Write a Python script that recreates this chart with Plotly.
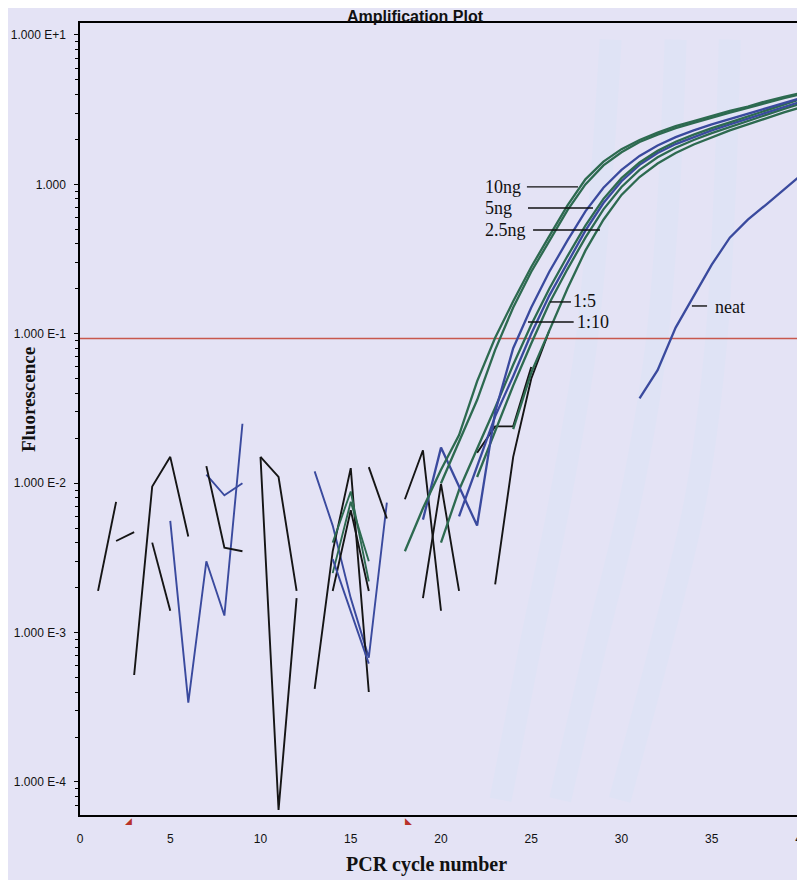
import math
import plotly.graph_objects as go

# ---------------- data ----------------
threshold = 0.093

# amplification curves: cycles and fluorescence
tenng_a_cyc = list(range(18, 41))
tenng_a = [0.0035, 0.0068, 0.0123, 0.021, 0.048, 0.094, 0.165, 0.28, 0.45, 0.72, 1.08, 1.42,
           1.72, 1.98, 2.22, 2.45, 2.65, 2.88, 3.1, 3.32, 3.6, 3.85, 4.1]
tenng_b_cyc = list(range(20, 41))
tenng_b = [0.010, 0.019, 0.036, 0.078, 0.15, 0.26, 0.42, 0.67, 1.0, 1.34, 1.64, 1.92, 2.15,
           2.38, 2.58, 2.8, 3.02, 3.25, 3.52, 3.78, 4.02]
dil5_cyc = list(range(19, 41))
dil5 = [0.0057, 0.0173, 0.0095, 0.0052, 0.03, 0.08, 0.15, 0.26, 0.42, 0.66, 0.95, 1.25, 1.55,
        1.82, 2.07, 2.3, 2.52, 2.74, 2.97, 3.22, 3.5, 3.8]
fiveng_cyc = list(range(20, 41))
fiveng = [0.004, 0.009, 0.017, 0.032, 0.062, 0.115, 0.2, 0.33, 0.53, 0.8, 1.1, 1.4, 1.68, 1.93,
          2.15, 2.38, 2.6, 2.85, 3.1, 3.4, 3.75]
dil10_cyc = list(range(21, 41))
dil10 = [0.006, 0.013, 0.028, 0.052, 0.1, 0.18, 0.3, 0.49, 0.75, 1.05, 1.35, 1.62, 1.86, 2.08,
         2.3, 2.52, 2.76, 3.0, 3.28, 3.6]
fiveng_b_cyc = list(range(22, 41))
fiveng_b = [0.011, 0.022, 0.045, 0.086, 0.16, 0.27, 0.44, 0.68, 0.96, 1.25, 1.52, 1.76, 1.98,
            2.2, 2.42, 2.65, 2.9, 3.2, 3.5]
twofive_cyc = list(range(24, 41))
twofive = [0.023, 0.055, 0.105, 0.2, 0.36, 0.58, 0.85, 1.12, 1.38, 1.62, 1.85, 2.07, 2.3, 2.52,
           2.77, 3.03, 3.3]
neat_cyc = list(range(31, 41))
neat = [0.037, 0.057, 0.11, 0.18, 0.29, 0.44, 0.58, 0.73, 0.92, 1.17]

# baseline noise segments (cycle lists and values)
n01_c = [1, 2];             n01_v = [0.0019, 0.0075]
n02_c = [2, 3];             n02_v = [0.0041, 0.0047]
n03_c = [3, 4, 5, 6];       n03_v = [0.00052, 0.0095, 0.015, 0.0044]
n04_c = [4, 5];             n04_v = [0.0040, 0.0014]
n05_c = [5, 6, 7, 8, 9];    n05_v = [0.0056, 0.00034, 0.0030, 0.0013, 0.025]
n06_c = [7, 8, 9];          n06_v = [0.0114, 0.0083, 0.0100]
n07_c = [7, 8, 9];          n07_v = [0.013, 0.0037, 0.0035]
n08_c = [10, 11, 12];       n08_v = [0.015, 0.000065, 0.0017]
n09_c = [10, 11, 12];       n09_v = [0.015, 0.011, 0.0019]
n10_c = [13, 14, 15, 16, 17]; n10_v = [0.012, 0.0052, 0.0017, 0.00068, 0.0074]
n11_c = [13, 14, 15, 16];   n11_v = [0.00042, 0.0035, 0.0126, 0.0004]
n12_c = [14, 15, 16];       n12_v = [0.0040, 0.0088, 0.0022]
n13_c = [14, 15, 16];       n13_v = [0.0025, 0.0075, 0.0030]
n14_c = [16, 17];           n14_v = [0.0128, 0.0058]
n15_c = [14, 15, 16];       n15_v = [0.0019, 0.0066, 0.0019]
n16_c = [14, 15, 16];       n16_v = [0.0031, 0.0014, 0.00062]
n17_c = [18, 19, 20];       n17_v = [0.0078, 0.0166, 0.0014]
n18_c = [19, 20, 21];       n18_v = [0.0017, 0.0099, 0.0019]
n19_c = [22, 23, 24, 25];   n19_v = [0.016, 0.024, 0.024, 0.06]
n20_c = [23, 24, 25, 26];   n20_v = [0.0021, 0.015, 0.05, 0.105]

# faint show-through bands of the scanned page
ghost1_c = [23.3, 24.9, 26.6, 28.0, 28.8, 29.4]
ghost2_c = [26.6, 28.5, 30.5, 31.9, 32.6, 33.0]
ghost3_c = [29.9, 32.1, 34.1, 35.2, 35.7, 36.0]
ghost_v = [7.6e-5, 7.6e-4, 0.0078, 0.078, 0.79, 9.3]

y_tick_vals = [1e-4, 1e-3, 1e-2, 1e-1, 1, 10]
y_tick_text = ["1.000 E-4", "1.000 E-3", "1.000 E-2", "1.000 E-1", "1.000", "1.000 E+1"]
x_tick_vals = [0, 5, 10, 15, 20, 25, 30, 35, 40]
baseline_marks = [2.7, 18.2]

# ---------------- styling ----------------
BG = "#E4E3F5"
GHOST = "#DFE3F6"
GREEN = "#2D6A50"
BLUE = "#3A4A9E"
BLACK = "#151515"
RED = "#C8584E"

fig = go.Figure()

for gc in (ghost1_c, ghost2_c, ghost3_c):
    fig.add_trace(go.Scatter(x=gc, y=ghost_v, mode="lines",
                             line=dict(color=GHOST, width=22, shape="spline"),
                             opacity=0.8, hoverinfo="skip"))

fig.add_trace(go.Scatter(x=[0, 40], y=[threshold, threshold], mode="lines",
                         line=dict(color=RED, width=1.6), hoverinfo="skip"))

noise = [
    (n01_c, n01_v, BLACK), (n02_c, n02_v, BLACK), (n03_c, n03_v, BLACK), (n04_c, n04_v, BLACK),
    (n05_c, n05_v, BLUE), (n06_c, n06_v, BLUE), (n07_c, n07_v, BLACK), (n08_c, n08_v, BLACK),
    (n09_c, n09_v, BLACK), (n10_c, n10_v, BLUE), (n11_c, n11_v, BLACK), (n12_c, n12_v, GREEN),
    (n13_c, n13_v, GREEN), (n14_c, n14_v, BLACK), (n15_c, n15_v, BLACK), (n16_c, n16_v, BLUE),
    (n17_c, n17_v, BLACK), (n18_c, n18_v, BLACK), (n19_c, n19_v, BLACK), (n20_c, n20_v, BLACK),
]
for cx, vy, col in noise:
    fig.add_trace(go.Scatter(x=cx, y=vy, mode="lines", line=dict(color=col, width=1.9)))

curves = [
    (twofive_cyc, twofive, GREEN), (fiveng_b_cyc, fiveng_b, GREEN), (dil10_cyc, dil10, BLUE),
    (fiveng_cyc, fiveng, GREEN), (dil5_cyc, dil5, BLUE), (tenng_b_cyc, tenng_b, GREEN),
    (tenng_a_cyc, tenng_a, GREEN), (neat_cyc, neat, BLUE),
]
for cx, vy, col in curves:
    fig.add_trace(go.Scatter(x=cx, y=vy, mode="lines", line=dict(color=col, width=2.3)))

# baseline start / end markers below the x axis
for bx, sym in zip(baseline_marks, ["\u25E2", "\u25E3"]):
    fig.add_annotation(x=bx, y=-0.008, xref="x", yref="paper", text=sym, showarrow=False,
                       xanchor="center", yanchor="middle",
                       font=dict(family="DejaVu Sans", size=9, color="#B8322A"))

# labels with leader lines (positions: cycle, log10 fluorescence)
labels = [
    ("10ng", 22.3, -0.017, 24.76, 27.59, -0.017),
    ("5ng", 22.3, -0.158, 24.82, 28.42, -0.158),
    ("2.5ng", 22.3, -0.305, 25.1, 28.81, -0.305),
    ("1:5", 27.2, -0.780, 26.04, 27.2, -0.787),
    ("1:10", 27.4, -0.921, 24.82, 27.35, -0.921),
    ("neat", 35.07, -0.821, 33.9, 34.74, -0.814),
]
for txt, tx, ty, x0, x1, ly in labels:
    fig.add_annotation(x=tx, y=ty, xref="x", yref="y", text=txt, showarrow=False,
                       xanchor="left", yanchor="middle",
                       font=dict(family="Liberation Serif", size=18, color="#111"))
    fig.add_shape(type="line", x0=x0, x1=x1, y0=10 ** ly, y1=10 ** ly, xref="x", yref="y",
                  line=dict(color="#111", width=1.4))

minor_vals = [m * 10.0 ** e for e in range(-5, 2) for m in range(2, 10)]

# the page adds an 8 px body margin, so the figure is 8 px smaller and margins shifted
fig.update_layout(
    width=797, height=872, autosize=False,
    margin=dict(l=72, r=3, t=15, b=65),
    paper_bgcolor=BG, plot_bgcolor=BG,
    showlegend=False,
    xaxis=dict(range=[0, 40], tickvals=x_tick_vals, ticks="", showline=True, linecolor="black",
               linewidth=1.5, mirror=True, showgrid=False, zeroline=False, automargin=False,
               ticklabelstandoff=12, ticklabeloverflow="allow",
               tickfont=dict(family="Liberation Sans", size=12, color="#111")),
    yaxis=dict(type="log", range=[-4.221, 1.080], tickvals=y_tick_vals, ticktext=y_tick_text,
               ticks="outside", ticklen=4, tickcolor="black", showline=True, linecolor="black",
               linewidth=1.5, mirror="ticks", showgrid=False, zeroline=False, automargin=False,
               ticklabelstandoff=6,
               minor=dict(tickvals=minor_vals, ticks="outside", ticklen=3, tickcolor="black",
                          showgrid=False),
               tickfont=dict(family="Liberation Sans", size=12, color="#111")),
)

fig.add_annotation(text="<b>Amplification Plot</b>", xref="paper", yref="paper", x=0.464, y=1.0085,
                   showarrow=False, xanchor="center", yanchor="middle",
                   font=dict(family="Liberation Sans", size=16, color="#111"))
fig.add_annotation(text="<b>Fluorescence</b>", xref="paper", yref="paper", x=-0.0706, y=0.524,
                   textangle=-90, showarrow=False, xanchor="center", yanchor="middle",
                   font=dict(family="Liberation Serif", size=19, color="#111"))
fig.add_annotation(text="<b>PCR cycle number</b>", xref="paper", yref="paper", x=0.4806, y=-0.0631,
                   showarrow=False, xanchor="center", yanchor="middle",
                   font=dict(family="Liberation Serif", size=20, color="#111"))

fig.write_html("out.html")
